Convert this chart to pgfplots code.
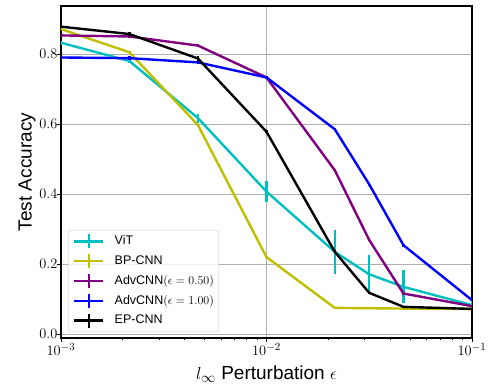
\documentclass[border=0pt]{standalone}
\usepackage{pgfplots}
\pgfplotsset{compat=1.18}
\usepackage{fontspec}
\setmainfont{Liberation Sans}
\definecolor{cC}{rgb}{0,0.75,0.75}
\definecolor{cY}{rgb}{0.75,0.75,0}
\definecolor{cP}{rgb}{0.5,0,0.5}
\definecolor{cB}{rgb}{0,0,1}
\definecolor{gridc}{rgb}{0.69,0.69,0.69}
\begin{document}
\begin{tikzpicture}
\begin{axis}[
  name=ax,
  scale only axis, width=411pt, height=332pt,
  xmode=log, xmin=0.001, xmax=0.1,
  ymin=-0.011, ymax=0.937,
  ytick={0,0.2,0.4,0.6,0.8},
  yticklabel style={xshift=4pt, /pgf/number format/.cd, fixed, fixed zerofill, precision=1},
  xtick={0.001,0.01,0.1},
  grid=major,
  major grid style={gridc, line width=0.8pt},
  axis line style={line width=1.1pt},
  tick align=outside, tickpos=left,
  major tick length=4pt, minor tick length=2.2pt,
  every tick/.style={black, line width=0.8pt},
  ticklabel style={font=\fontsize{15.5}{17}\selectfont},
  xticklabel style={yshift=2pt},
  xlabel={$l_\infty$ Perturbation $\epsilon$},
  ylabel={Test Accuracy},
  label style={font=\fontsize{19}{21}\selectfont},
  xlabel style={yshift=-3pt},
  ylabel style={yshift=-3pt},
  legend cell align=left,
  legend style={at={(0.017,0.018)}, anchor=south west, font=\fontsize{12.5}{14}\selectfont,
    draw=gridc!70, rounded corners=2pt, fill=white, fill opacity=0.8, text opacity=1,
    row sep=3.3pt, inner xsep=5pt, inner ysep=3pt,
    nodes={inner xsep=0pt, inner ysep=2pt, text height=9.5pt, text depth=3pt},
    /tikz/every odd column/.append style={column sep=10pt}},
  legend image code/.code={
    \draw[#1, line width=2.5pt] (0pt,0pt) -- (29pt,0pt);
    \draw[#1, line width=2.5pt] (14.5pt,-7pt) -- (14.5pt,7pt);
  },
  every axis plot/.append style={line width=2.4pt, mark=none},
  error bars/y dir=both, error bars/y explicit,
  error bars/error mark=none,
  error bars/error bar style={line width=2.4pt},
]
\addplot[cC] coordinates {
 (0.001,0.832) +- (0,0.005)
 (0.00215,0.780) +- (0,0.007)
 (0.00464,0.617) +- (0,0.013)
 (0.01,0.407) +- (0,0.030)
 (0.0215,0.235) +- (0,0.063)
 (0.0316,0.171) +- (0,0.054)
 (0.0464,0.135) +- (0,0.047)
 (0.1,0.083) +- (0,0.015)
};
\addlegendentry{ViT}
\addplot[cY] coordinates {
 (0.001,0.871) +- (0,0.003)
 (0.00215,0.805) +- (0,0.003)
 (0.00464,0.597) +- (0,0.004)
 (0.01,0.220) +- (0,0.004)
 (0.0215,0.075) +- (0,0.002)
 (0.0316,0.074) +- (0,0.002)
 (0.0464,0.073) +- (0,0.002)
 (0.1,0.072) +- (0,0.002)
};
\addlegendentry{BP-CNN}
\addplot[cP] coordinates {
 (0.001,0.853) +- (0,0.004)
 (0.00215,0.850) +- (0,0.004)
 (0.00464,0.824) +- (0,0.005)
 (0.01,0.733) +- (0,0.005)
 (0.0215,0.468) +- (0,0.004)
 (0.0316,0.269) +- (0,0.004)
 (0.0464,0.116) +- (0,0.003)
 (0.1,0.080) +- (0,0.003)
};
\addlegendentry{AdvCNN$(\epsilon=0.50)$}
\addplot[cB] coordinates {
 (0.001,0.790) +- (0,0.004)
 (0.00215,0.788) +- (0,0.005)
 (0.00464,0.776) +- (0,0.005)
 (0.01,0.733) +- (0,0.005)
 (0.0215,0.585) +- (0,0.004)
 (0.0316,0.428) +- (0,0.004)
 (0.0464,0.254) +- (0,0.004)
 (0.1,0.097) +- (0,0.003)
};
\addlegendentry{AdvCNN$(\epsilon=1.00)$}
\addplot[black] coordinates {
 (0.001,0.878) +- (0,0.004)
 (0.00215,0.857) +- (0,0.005)
 (0.00464,0.787) +- (0,0.006)
 (0.01,0.578) +- (0,0.004)
 (0.0215,0.235) +- (0,0.004)
 (0.0316,0.118) +- (0,0.004)
 (0.0464,0.078) +- (0,0.003)
 (0.1,0.072) +- (0,0.003)
};
\addlegendentry{EP-CNN}
\end{axis}
\path (ax.south west) ++(-61pt,-47pt) coordinate (bbA);
\path (ax.south west) ++(427pt,338pt) coordinate (bbB);
\pgfresetboundingbox
\useasboundingbox (bbA) rectangle (bbB);
\end{tikzpicture}
\end{document}
